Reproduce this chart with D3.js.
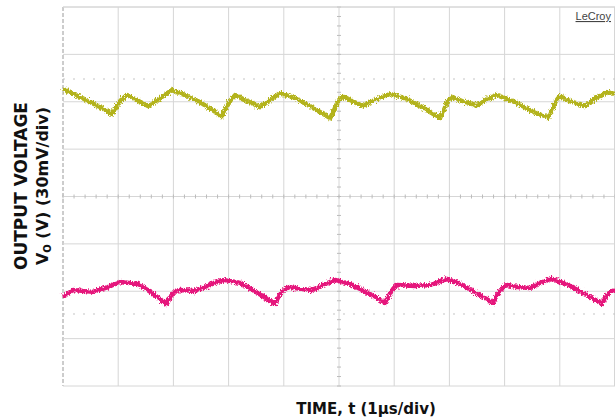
<!DOCTYPE html>
<html>
<head>
<meta charset="utf-8">
<script src="https://cdn.jsdelivr.net/npm/d3@7"></script>
<style>
  body { margin: 0; background: #fff; }
  .label { font-family: "DejaVu Sans", sans-serif; font-weight: 700; font-size: 15px; fill: #111; }
  .brand { font-family: "Liberation Sans", sans-serif; font-size: 11px; fill: #444; text-decoration: underline; }
</style>
</head>
<body>
<div id="chart"></div>
<script>
// time in µs (1µs/div), voltage in mV around screen centre (30mV/div)
const yellowTime = [0, 0.31, 0.67, 0.89, 0.96, 1.05, 1.16, 1.30, 1.54, 1.76, 1.97, 2.21, 2.48, 2.88, 2.95, 3.04, 3.12, 3.30, 3.57, 3.75, 3.93, 4.20, 4.47, 4.84, 4.91, 4.98, 5.07, 5.24, 5.43, 5.65, 5.92, 6.20, 6.47, 6.83, 6.90, 6.97, 7.05, 7.23, 7.50, 7.68, 7.86, 8.19, 8.46, 8.79, 8.86, 8.93, 9.00, 9.18, 9.46, 9.64, 9.86, 10.0]
const yellowMv = [68.0, 63.0, 56.6, 52.2, 56.0, 61.1, 64.2, 61.7, 57.3, 62.3, 67.4, 64.2, 59.8, 50.9, 56.0, 61.1, 64.2, 61.1, 56.6, 61.1, 65.5, 62.3, 57.3, 49.7, 54.7, 60.4, 63.6, 60.4, 57.3, 61.1, 64.9, 62.3, 57.3, 49.7, 54.7, 60.4, 63.0, 60.4, 57.9, 61.7, 64.2, 59.8, 54.7, 49.7, 55.4, 60.4, 63.6, 60.4, 57.3, 62.3, 66.1, 64.9]

const pinkTime = [0, 0.18, 0.54, 0.82, 1.03, 1.36, 1.61, 1.87, 1.94, 2.03, 2.12, 2.39, 2.66, 2.90, 3.21, 3.53, 3.84, 3.91, 4.00, 4.08, 4.29, 4.51, 4.75, 4.93, 5.20, 5.53, 5.83, 5.91, 5.98, 6.05, 6.38, 6.65, 6.96, 7.23, 7.52, 7.79, 7.86, 7.95, 8.04, 8.24, 8.46, 8.64, 8.86, 9.15, 9.46, 9.76, 9.84, 9.91, 10.0]
const pinkMv = [-63.6, -59.2, -60.4, -57.3, -54.1, -55.4, -61.1, -68.0, -63.6, -59.8, -59.2, -59.8, -56.0, -52.8, -54.7, -61.1, -68.0, -63.0, -59.2, -57.3, -58.5, -59.2, -55.4, -52.8, -55.4, -61.1, -67.4, -62.3, -58.5, -56.0, -56.6, -56.0, -52.2, -56.0, -61.7, -67.4, -62.3, -58.5, -56.0, -57.3, -57.9, -54.7, -52.2, -56.0, -61.7, -68.0, -63.6, -60.4, -59.2]

// reference marker levels (mV)
const refLevels = [74.4, -74.4]

const xDivs = [0, 1, 2, 3, 4, 5, 6, 7, 8, 9, 10]
const yDivs = [-120, -90, -60, -30, 0, 30, 60, 90, 120]

const margin = {top: 7, right: 0, bottom: 33, left: 63};
const width = 615 - margin.left - margin.right;
const height = 419 - margin.top - margin.bottom;

const root = d3.select("#chart")
  .append("svg")
    .attr("width", 615)
    .attr("height", 419);

// jitter so the traces look like scope noise
const defs = root.append("defs");
const filt = defs.append("filter")
    .attr("id", "noise")
    .attr("x", "-5%").attr("y", "-50%")
    .attr("width", "110%").attr("height", "200%");
filt.append("feTurbulence")
    .attr("type", "fractalNoise")
    .attr("baseFrequency", "1.4 0.5")
    .attr("numOctaves", 2)
    .attr("seed", 3)
    .attr("result", "turb");
filt.append("feDisplacementMap")
    .attr("in", "SourceGraphic")
    .attr("in2", "turb")
    .attr("scale", 6)
    .attr("xChannelSelector", "R")
    .attr("yChannelSelector", "G");

const svg = root.append("g")
    .attr("transform", "translate(" + margin.left + "," + margin.top + ")");

const xScale = d3.scaleLinear().domain([0, 10]).range([0, width]);
const yScale = d3.scaleLinear().domain([-120, 120]).range([height, 0]);

// grid
svg.append("g")
  .selectAll("line")
  .data(xDivs)
  .enter()
  .append("line")
    .attr("x1", d => xScale(d))
    .attr("x2", d => xScale(d))
    .attr("y1", 0)
    .attr("y2", height)
    .attr("stroke", d => d === 0 ? "#9a9a9a" : "#d6d6d6")
    .attr("stroke-dasharray", d => d === 0 ? "4,2" : null)
    .attr("stroke-width", d => d === 10 ? 2 : 1);

svg.append("g")
  .selectAll("line")
  .data(yDivs)
  .enter()
  .append("line")
    .attr("x1", 0)
    .attr("x2", width)
    .attr("y1", d => yScale(d))
    .attr("y2", d => yScale(d))
    .attr("stroke", "#d6d6d6")
    .attr("stroke-width", 1);

// minor ticks on the centre lines
const xMinor = d3.range(0, 10.01, 0.2)
const yMinor = d3.range(-120, 120.01, 6)
svg.append("g")
  .selectAll("line")
  .data(xMinor)
  .enter()
  .append("line")
    .attr("x1", d => xScale(d))
    .attr("x2", d => xScale(d))
    .attr("y1", yScale(0) - 2)
    .attr("y2", yScale(0) + 2)
    .attr("stroke", "#bcbcbc");
svg.append("g")
  .selectAll("line")
  .data(yMinor)
  .enter()
  .append("line")
    .attr("x1", xScale(5) - 2)
    .attr("x2", xScale(5) + 2)
    .attr("y1", d => yScale(d))
    .attr("y2", d => yScale(d))
    .attr("stroke", "#bcbcbc");

// dotted reference markers
svg.append("g")
  .selectAll("line")
  .data(refLevels)
  .enter()
  .append("line")
    .attr("x1", 0)
    .attr("x2", width)
    .attr("y1", d => yScale(d))
    .attr("y2", d => yScale(d))
    .attr("stroke", "#c4c4c4")
    .attr("stroke-dasharray", "2,8");

// traces
const line = d3.line()
  .x(d => xScale(d[0]))
  .y(d => yScale(d[1]));

const traces = [
  {color: "#b3b31e", pts: d3.zip(yellowTime, yellowMv)},
  {color: "#e5197c", pts: d3.zip(pinkTime, pinkMv)}
];

svg.append("g")
    .attr("filter", "url(#noise)")
  .selectAll("path")
  .data(traces)
  .enter()
  .append("path")
    .attr("d", d => line(d.pts))
    .attr("fill", "none")
    .attr("stroke", d => d.color)
    .attr("stroke-width", 4.5)
    .attr("stroke-linejoin", "round");

// top frame
svg.append("line")
    .attr("x1", 0).attr("x2", width)
    .attr("y1", 0).attr("y2", 0)
    .attr("stroke", "#d6d6d6");

svg.append("text")
    .attr("class", "brand")
    .attr("x", width - 4)
    .attr("y", 13)
    .attr("text-anchor", "end")
    .text("LeCroy");

// axis titles
svg.append("text")
    .attr("class", "label")
    .attr("x", 303)
    .attr("y", height + 28)
    .attr("text-anchor", "middle")
    .text("TIME, t (1µs/div)");

const yTitle = root.append("text")
    .attr("class", "label")
    .attr("transform", "translate(27,186) rotate(-90)")
    .attr("text-anchor", "middle");
yTitle.append("tspan")
    .attr("x", 0).attr("y", 0)
    .attr("font-size", "17px")
    .text("OUTPUT VOLTAGE");
yTitle.append("tspan")
    .attr("x", 0).attr("y", 21)
    .attr("font-size", "16px")
    .text("V");
yTitle.append("tspan")
    .attr("font-size", "10px")
    .attr("dy", 3)
    .text("O");
yTitle.append("tspan")
    .attr("font-size", "16px")
    .attr("dy", -3)
    .text(" (V) (30mV/div)");
</script>
</body>
</html>
